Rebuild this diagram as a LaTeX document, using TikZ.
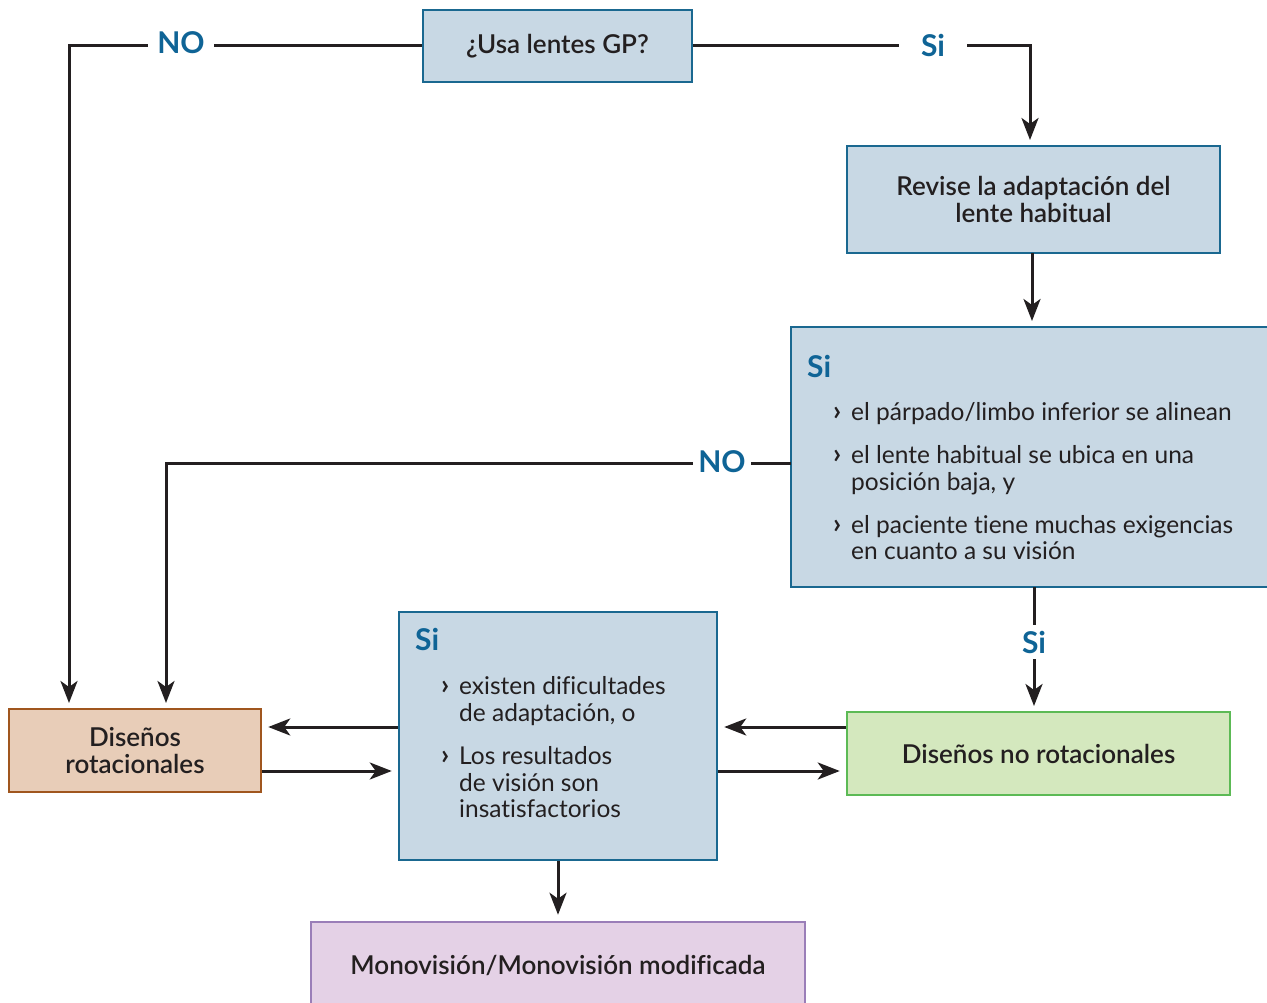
\documentclass[tikz,border=0pt]{standalone}
\usepackage{fontspec}
\setmainfont{Lato}[Ligatures=NoCommon]
\newfontfamily\semib{Lato Semibold}[Ligatures=NoCommon]
\usetikzlibrary{arrows.meta}
\definecolor{bfill}{HTML}{C8D8E4}
\definecolor{bdraw}{HTML}{1A6890}
\definecolor{lblue}{HTML}{0F6496}
\definecolor{ofill}{HTML}{E8CDB8}
\definecolor{odraw}{HTML}{A0561E}
\definecolor{gfill}{HTML}{D4E8BE}
\definecolor{gdraw}{HTML}{5CBA55}
\definecolor{pfill}{HTML}{E4D1E6}
\definecolor{pdraw}{HTML}{9A7EB8}
\definecolor{txt}{HTML}{231F20}
\begin{document}
\begin{tikzpicture}[x=1pt,y=-1pt,
  every node/.style={text=txt, font=\fontsize{24.5}{27}\selectfont},
  boxbase/.style={rectangle, line width=2.5pt, inner sep=0pt, align=center},
  bbox/.style={boxbase, draw=bdraw, fill=bfill},
  obox/.style={boxbase, draw=odraw, fill=ofill},
  gbox/.style={boxbase, draw=gdraw, fill=gfill},
  pbox/.style={boxbase, draw=pdraw, fill=pfill},
  ttl/.style={font=\fontsize{26}{27}\selectfont\semib},
  lbl/.style={text=lblue, font=\fontsize{30}{30}\selectfont\bfseries, fill=white, inner xsep=7pt, inner ysep=1pt},
  si/.style={text=lblue, font=\fontsize{30}{30}\selectfont\bfseries, anchor=base west, inner sep=0pt},
  bul/.style={font=\fontsize{28}{27}\selectfont\bfseries, anchor=base west, inner sep=0pt},
  ln/.style={anchor=base west, inner sep=0pt},
  arr/.style={line width=3pt, draw=txt, -{Stealth[length=22pt,width=17pt,inset=6pt]}, shorten >=6pt},
  conn/.style={line width=3pt, draw=txt}
]
\clip (0,0) rectangle (1267,1003);
\fill[white] (0,0) rectangle (1267,1003);

% boxes
\node[bbox, ttl, minimum width=269, minimum height=72] (gp) at (557.5,46) {¿Usa lentes GP?};
\node[bbox, ttl, minimum width=373, minimum height=107] (rev) at (1033.5,199.5) {Revise la adaptación del\\lente habitual};
\node[bbox, minimum width=481, minimum height=260] (c1) at (1031.5,457) {};
\node[obox, ttl, minimum width=252, minimum height=83] (rot) at (135,750.5) {Diseños\\rotacionales};
\node[bbox, minimum width=318, minimum height=248] (c2) at (558,736) {};
\node[gbox, ttl, minimum width=383, minimum height=83] (nrot) at (1038.5,753.5) {Diseños no rotacionales};
\node[pbox, minimum width=494, minimum height=90] (mono) at (558,967) {};
\node[ttl] (monot) at (558,965) {Monovisión/Monovisión modificada};

% text in first condition box
\node[si] (c1si) at (807,377) {Si};
\node[bul] (c1b1) at (833,420) {›};
\node[ln] (c1l1) at (851,420) {el párpado/limbo inferior se alinean};
\node[bul] (c1b2) at (833,463) {›};
\node[ln] (c1l2) at (851,463) {el lente habitual se ubica en una};
\node[ln] (c1l3) at (851,490) {posición baja, y};
\node[bul] (c1b3) at (833,533) {›};
\node[ln] (c1l4) at (851,533) {el paciente tiene muchas exigencias};
\node[ln] (c1l5) at (851,559) {en cuanto a su visión};

% text in second condition box
\node[si] (c2si) at (415,650) {Si};
\node[bul] (c2b1) at (441,694) {›};
\node[ln] (c2l1) at (459,694) {existen dificultades};
\node[ln] (c2l2) at (459,721) {de adaptación, o};
\node[bul] (c2b2) at (441,764) {›};
\node[ln] (c2l3) at (459,764) {Los resultados};
\node[ln] (c2l4) at (459,791) {de visión son};
\node[ln] (c2l5) at (459,817) {insatisfactorios};

% coordinates
\coordinate (rotin1) at (69,709);
\coordinate (rotin2) at (166,709);
\coordinate (revin) at (1030,146);
\coordinate (revout) at (1032,253);
\coordinate (c1in) at (1032,327);
\coordinate (ya) at (0,727);
\coordinate (yb) at (0,771);
\coordinate (c1out) at (1034,587);
\coordinate (nrotin) at (1034,712);
\coordinate (c1w) at (791,463);

% connectors
\draw[arr] (gp.west) -| (rotin1);
\node[lbl, inner xsep=9pt] (no1) at (181,43) {NO};
\draw[arr] (gp.east) -| (revin);
\node[lbl, inner xsep=22pt] (si1) at (933,45) {Si};
\draw[arr] (revout) -- (c1in);
\draw[arr] (c1w) -| (rotin2);
\node[lbl, inner xsep=5pt] (no2) at (722,462) {NO};
\draw[arr] (c1out) -- (nrotin);
\node[lbl, inner ysep=6pt] (si2) at (1034,642) {Si};
\draw[arr] (c2.west |- ya) -- (rot.east |- ya);
\draw[arr] (rot.east |- yb) -- (c2.west |- yb);
\draw[arr] (nrot.west |- ya) -- (c2.east |- ya);
\draw[arr] (c2.east |- yb) -- (nrot.west |- yb);
\draw[arr] (c2.south) -- (mono.north);
\end{tikzpicture}
\end{document}
